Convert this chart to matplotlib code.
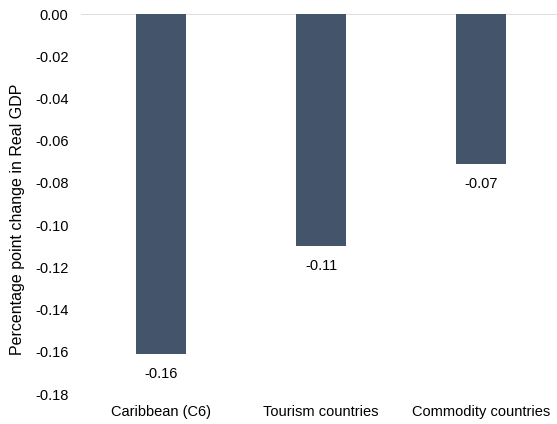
import matplotlib

matplotlib.use("Agg")
import matplotlib.pyplot as plt  # noqa: E402
from matplotlib import rcParams  # noqa: E402

rcParams["font.family"] = ["Liberation Sans", "DejaVu Sans"]

categories = ["Caribbean (C6)", "Tourism countries", "Commodity countries"]
values = [-0.161, -0.110, -0.071]
value_labels = ["-0.16", "-0.11", "-0.07"]
yticks = [0.00, -0.02, -0.04, -0.06, -0.08, -0.10, -0.12, -0.14, -0.16, -0.18]

bar_color = "#44546A"
text_color = "#000000"

fig = plt.figure(figsize=(5.57, 4.24), dpi=100)
ax = fig.add_axes([81 / 557, 30 / 424, 476 / 557, 380 / 424])

x = list(range(len(categories)))
ax.bar(x, values, width=0.3125, color=bar_color, zorder=2)
ax.axhline(0, color="#D9D9D9", lw=1.2, zorder=1)

for xi, v, lab in zip(x, values, value_labels):
    ax.annotate(lab, (xi, v), xytext=(0, -20), textcoords="offset pixels",
                ha="center", va="center", fontsize=10.5, color=text_color)

ax.set_xlim(-0.5, 2.475)
ax.set_ylim(-0.18, 0.0)
ax.set_yticks(yticks)
ax.set_yticklabels([f"{t:.2f}" for t in yticks])
ax.set_xticks(x)
ax.set_xticklabels(categories)
ax.tick_params(axis="both", length=0, labelsize=10.5, colors=text_color)
ax.tick_params(axis="y", pad=9)
ax.tick_params(axis="x", pad=8)
for s in ax.spines.values():
    s.set_visible(False)

ax.set_ylabel("Percentage point change in Real GDP", fontsize=11.5)
ax.yaxis.set_label_coords(-0.118, 0.46)

fig.savefig("out.png", dpi=100)
